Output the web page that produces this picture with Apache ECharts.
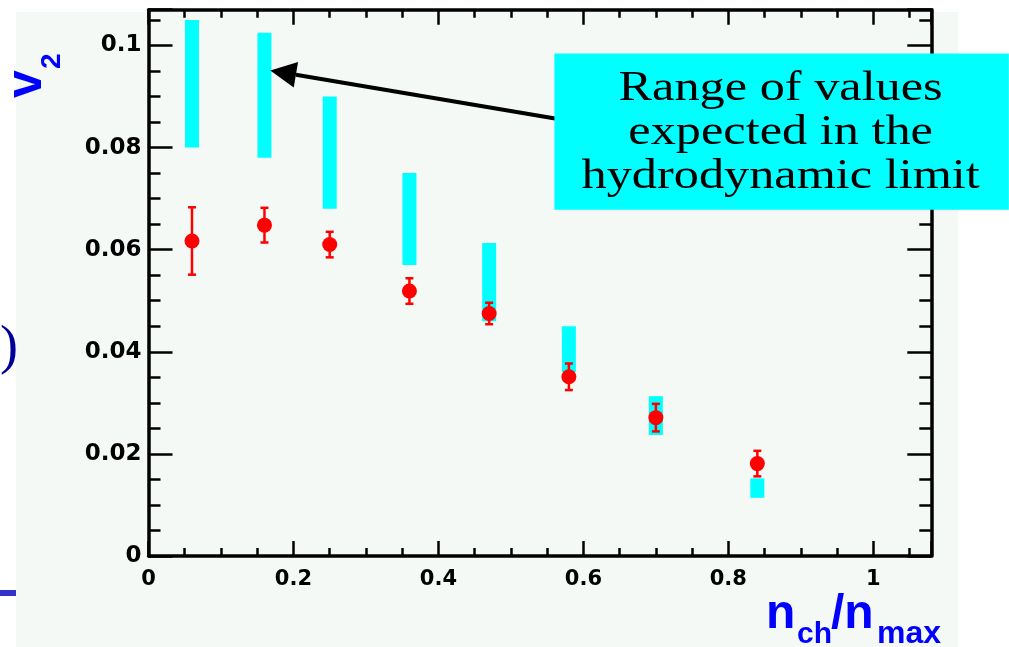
<!DOCTYPE html>
<html>
<head>
<meta charset="utf-8">
<script src="https://cdn.jsdelivr.net/npm/echarts@6/dist/echarts.min.js"></script>
<style>
html, body { margin: 0; padding: 0; background: #ffffff; }
#main { width: 1009px; height: 647px; }
</style>
</head>
<body>
<div id="main"></div>
<script>
// centrality bins, n_ch/n_max
var nch = [0.06, 0.16, 0.25, 0.36, 0.47, 0.58, 0.70, 0.84];
// measured v2 with stat. error
var v2 = [0.0617, 0.0648, 0.0610, 0.0519, 0.0475, 0.0351, 0.0271, 0.0181];
var v2err = [0.0066, 0.0034, 0.0025, 0.0025, 0.0021, 0.0026, 0.0027, 0.0025];
// range expected in the hydrodynamic limit
var hydroLow = [0.080, 0.078, 0.068, 0.057, 0.046, 0.036, 0.0237, 0.0114];
var hydroHigh = [0.105, 0.1025, 0.090, 0.075, 0.0613, 0.045, 0.0313, 0.0152];
// tick labels
var xTicks = [0, 0.2, 0.4, 0.6, 0.8, 1];
var yTicks = [0, 0.02, 0.04, 0.06, 0.08, 0.1];
// annotation (data units)
var arrowTail = [0.561, 0.0857];
var arrowTip = [0.168, 0.0951];
var noteCorner1 = [0.56, 0.0984];
var noteCorner2 = [1.187, 0.0678];
var noteLines = ['Range of values', 'expected in the', 'hydrodynamic limit'];

var chart = echarts.init(document.getElementById('main'));

function tickText(list) {
	return function (v) {
		for (var i = 0; i < list.length; i++) {
			if (Math.abs(v - list[i]) < 1e-9) return String(list[i]);
		}
		return '';
	};
}

// one axis = one set of ticks; the frame is made of 4 of them + 4 minor ones
function axis(pos, max, interval, tickLen, withLine, label) {
	return {
		type: 'value',
		gridIndex: 0,
		position: pos,
		min: 0,
		max: max,
		interval: interval,
		axisLine: { show: withLine, onZero: false, lineStyle: { color: '#000', width: 3.5 } },
		axisTick: { show: true, inside: true, length: tickLen, lineStyle: { color: '#000', width: 2.5 } },
		axisLabel: label ? label : { show: false },
		splitLine: { show: false }
	};
}

var xLabel = {
	show: true, margin: 13, color: '#000',
	fontFamily: 'DejaVu Sans', fontWeight: 'bold', fontSize: 21,
	formatter: tickText(xTicks)
};
var yLabel = {
	show: true, margin: 7, color: '#000',
	fontFamily: 'DejaVu Sans', fontWeight: 'bold', fontSize: 23,
	formatter: tickText(yTicks)
};

var option = {
	animation: false,
	backgroundColor: '#ffffff',
	grid: { left: 148.5, right: 77.7, top: 9.7, bottom: 91, outerBoundsMode: 'none' },
	xAxis: [
		axis('bottom', 1.08, 0.2, 15, true, xLabel),
		axis('bottom', 1.08, 0.05, 8, false),
		axis('top', 1.08, 0.2, 15, true),
		axis('top', 1.08, 0.05, 8, false)
	],
	yAxis: [
		axis('left', 0.107, 0.02, 24, true, yLabel),
		axis('left', 0.107, 0.005, 12, false),
		axis('right', 0.107, 0.02, 24, true),
		axis('right', 0.107, 0.005, 12, false)
	],
	series: [
		{
			type: 'custom',
			name: 'hydro',
			xAxisIndex: 0, yAxisIndex: 0,
			data: nch.map(function (x, i) { return [x, hydroLow[i], hydroHigh[i]]; }),
			encode: { x: 0, y: [1, 2] },
			renderItem: function (params, api) {
				var lo = api.coord([api.value(0), api.value(1)]);
				var hi = api.coord([api.value(0), api.value(2)]);
				return {
					type: 'rect',
					shape: { x: lo[0] - 7, y: hi[1], width: 14, height: lo[1] - hi[1] },
					style: { fill: '#00ffff' }
				};
			},
			z: 2
		},
		{
			type: 'custom',
			name: 'v2err',
			xAxisIndex: 0, yAxisIndex: 0,
			data: nch.map(function (x, i) { return [x, v2[i], v2err[i]]; }),
			encode: { x: 0, y: 1 },
			renderItem: function (params, api) {
				var x = api.value(0), v = api.value(1), e = api.value(2);
				var top = api.coord([x, v + e]);
				var bot = api.coord([x, v - e]);
				var st = { stroke: '#ff0000', lineWidth: 2.5 };
				return {
					type: 'group',
					children: [
						{ type: 'line', shape: { x1: top[0], y1: top[1], x2: bot[0], y2: bot[1] }, style: st },
						{ type: 'line', shape: { x1: top[0] - 4, y1: top[1], x2: top[0] + 4, y2: top[1] }, style: st },
						{ type: 'line', shape: { x1: bot[0] - 4, y1: bot[1], x2: bot[0] + 4, y2: bot[1] }, style: st }
					]
				};
			},
			z: 3
		},
		{
			type: 'scatter',
			name: 'v2',
			xAxisIndex: 0, yAxisIndex: 0,
			data: nch.map(function (x, i) { return [x, v2[i]]; }),
			symbol: 'circle',
			symbolSize: 15,
			itemStyle: { color: '#ff0000', opacity: 1 },
			z: 4
		}
	]
};

chart.setOption(option);

// pixel positions of the annotation come from the axes
function px(pt) {
	return chart.convertToPixel({ gridIndex: 0 }, pt);
}
var c1 = px(noteCorner1), c2 = px(noteCorner2);
var tail = px(arrowTail), tip = px(arrowTip);
var dx = tip[0] - tail[0], dy = tip[1] - tail[1];
var len = Math.sqrt(dx * dx + dy * dy);
var ux = dx / len, uy = dy / len;
var headLen = 26, headHalf = 13;
var base = [tip[0] - ux * headLen, tip[1] - uy * headLen];

var blue = '#0000ff';
var titleFont = 'Liberation Sans';

chart.setOption({
	graphic: [
		// canvas pad
		{ type: 'rect', z: -10, shape: { x: 16, y: 12, width: 942, height: 640 }, style: { fill: '#f4f9f6' } },
		// bits of the slide around the plot
		{ type: 'text', z: -5, x: 0, y: 349, style: { text: ')', font: '54px "Liberation Serif"', fill: '#000099', align: 'left', verticalAlign: 'middle' } },
		{ type: 'rect', z: -5, shape: { x: 0, y: 590, width: 16, height: 6 }, style: { fill: '#3333cc' } },
		// y title: v_2
		{ type: 'text', z: 5, x: 27, y: 98, rotation: Math.PI / 2, style: { text: 'v', font: 'bold 50px "' + titleFont + '"', fill: blue, align: 'left', verticalAlign: 'middle' } },
		{ type: 'text', z: 5, x: 52, y: 69, rotation: Math.PI / 2, style: { text: '2', font: 'bold 28px "' + titleFont + '"', fill: blue, align: 'left', verticalAlign: 'middle' } },
		// x title: n_ch/n_max
		{ type: 'text', z: 5, x: 766, y: 615, style: { text: 'n', font: 'bold 48px "' + titleFont + '"', fill: blue, align: 'left', verticalAlign: 'middle' } },
		{ type: 'text', z: 5, x: 797, y: 634.5, style: { text: 'ch', font: 'bold 30px "' + titleFont + '"', fill: blue, align: 'left', verticalAlign: 'middle' } },
		{ type: 'text', z: 5, x: 831, y: 615, style: { text: '/n', font: 'bold 48px "' + titleFont + '"', fill: blue, align: 'left', verticalAlign: 'middle' } },
		{ type: 'text', z: 5, x: 877, y: 634, style: { text: 'max', font: 'bold 32px "' + titleFont + '"', fill: blue, align: 'left', verticalAlign: 'middle' } },
		// arrow
		{ type: 'line', z: 100, shape: { x1: tail[0], y1: tail[1], x2: base[0], y2: base[1] }, style: { stroke: '#000', lineWidth: 4 } },
		{
			type: 'polygon', z: 100,
			shape: { points: [tip, [base[0] - uy * headHalf, base[1] + ux * headHalf], [base[0] + uy * headHalf, base[1] - ux * headHalf]] },
			style: { fill: '#000' }
		},
		// note box
		{ type: 'rect', z: 100, shape: { x: c1[0], y: c1[1], width: c2[0] - c1[0], height: c2[1] - c1[1] }, style: { fill: '#00ffff' } },
		{
			type: 'text', z: 101,
			x: (c1[0] + c2[0]) / 2 - 1, y: (c1[1] + c2[1]) / 2 + 1,
			scaleX: 1.17,
			style: { text: noteLines.join('\n'), font: '43px "Liberation Serif"', lineHeight: 44, fill: '#000', align: 'center', verticalAlign: 'middle' }
		}
	]
});
</script>
</body>
</html>
